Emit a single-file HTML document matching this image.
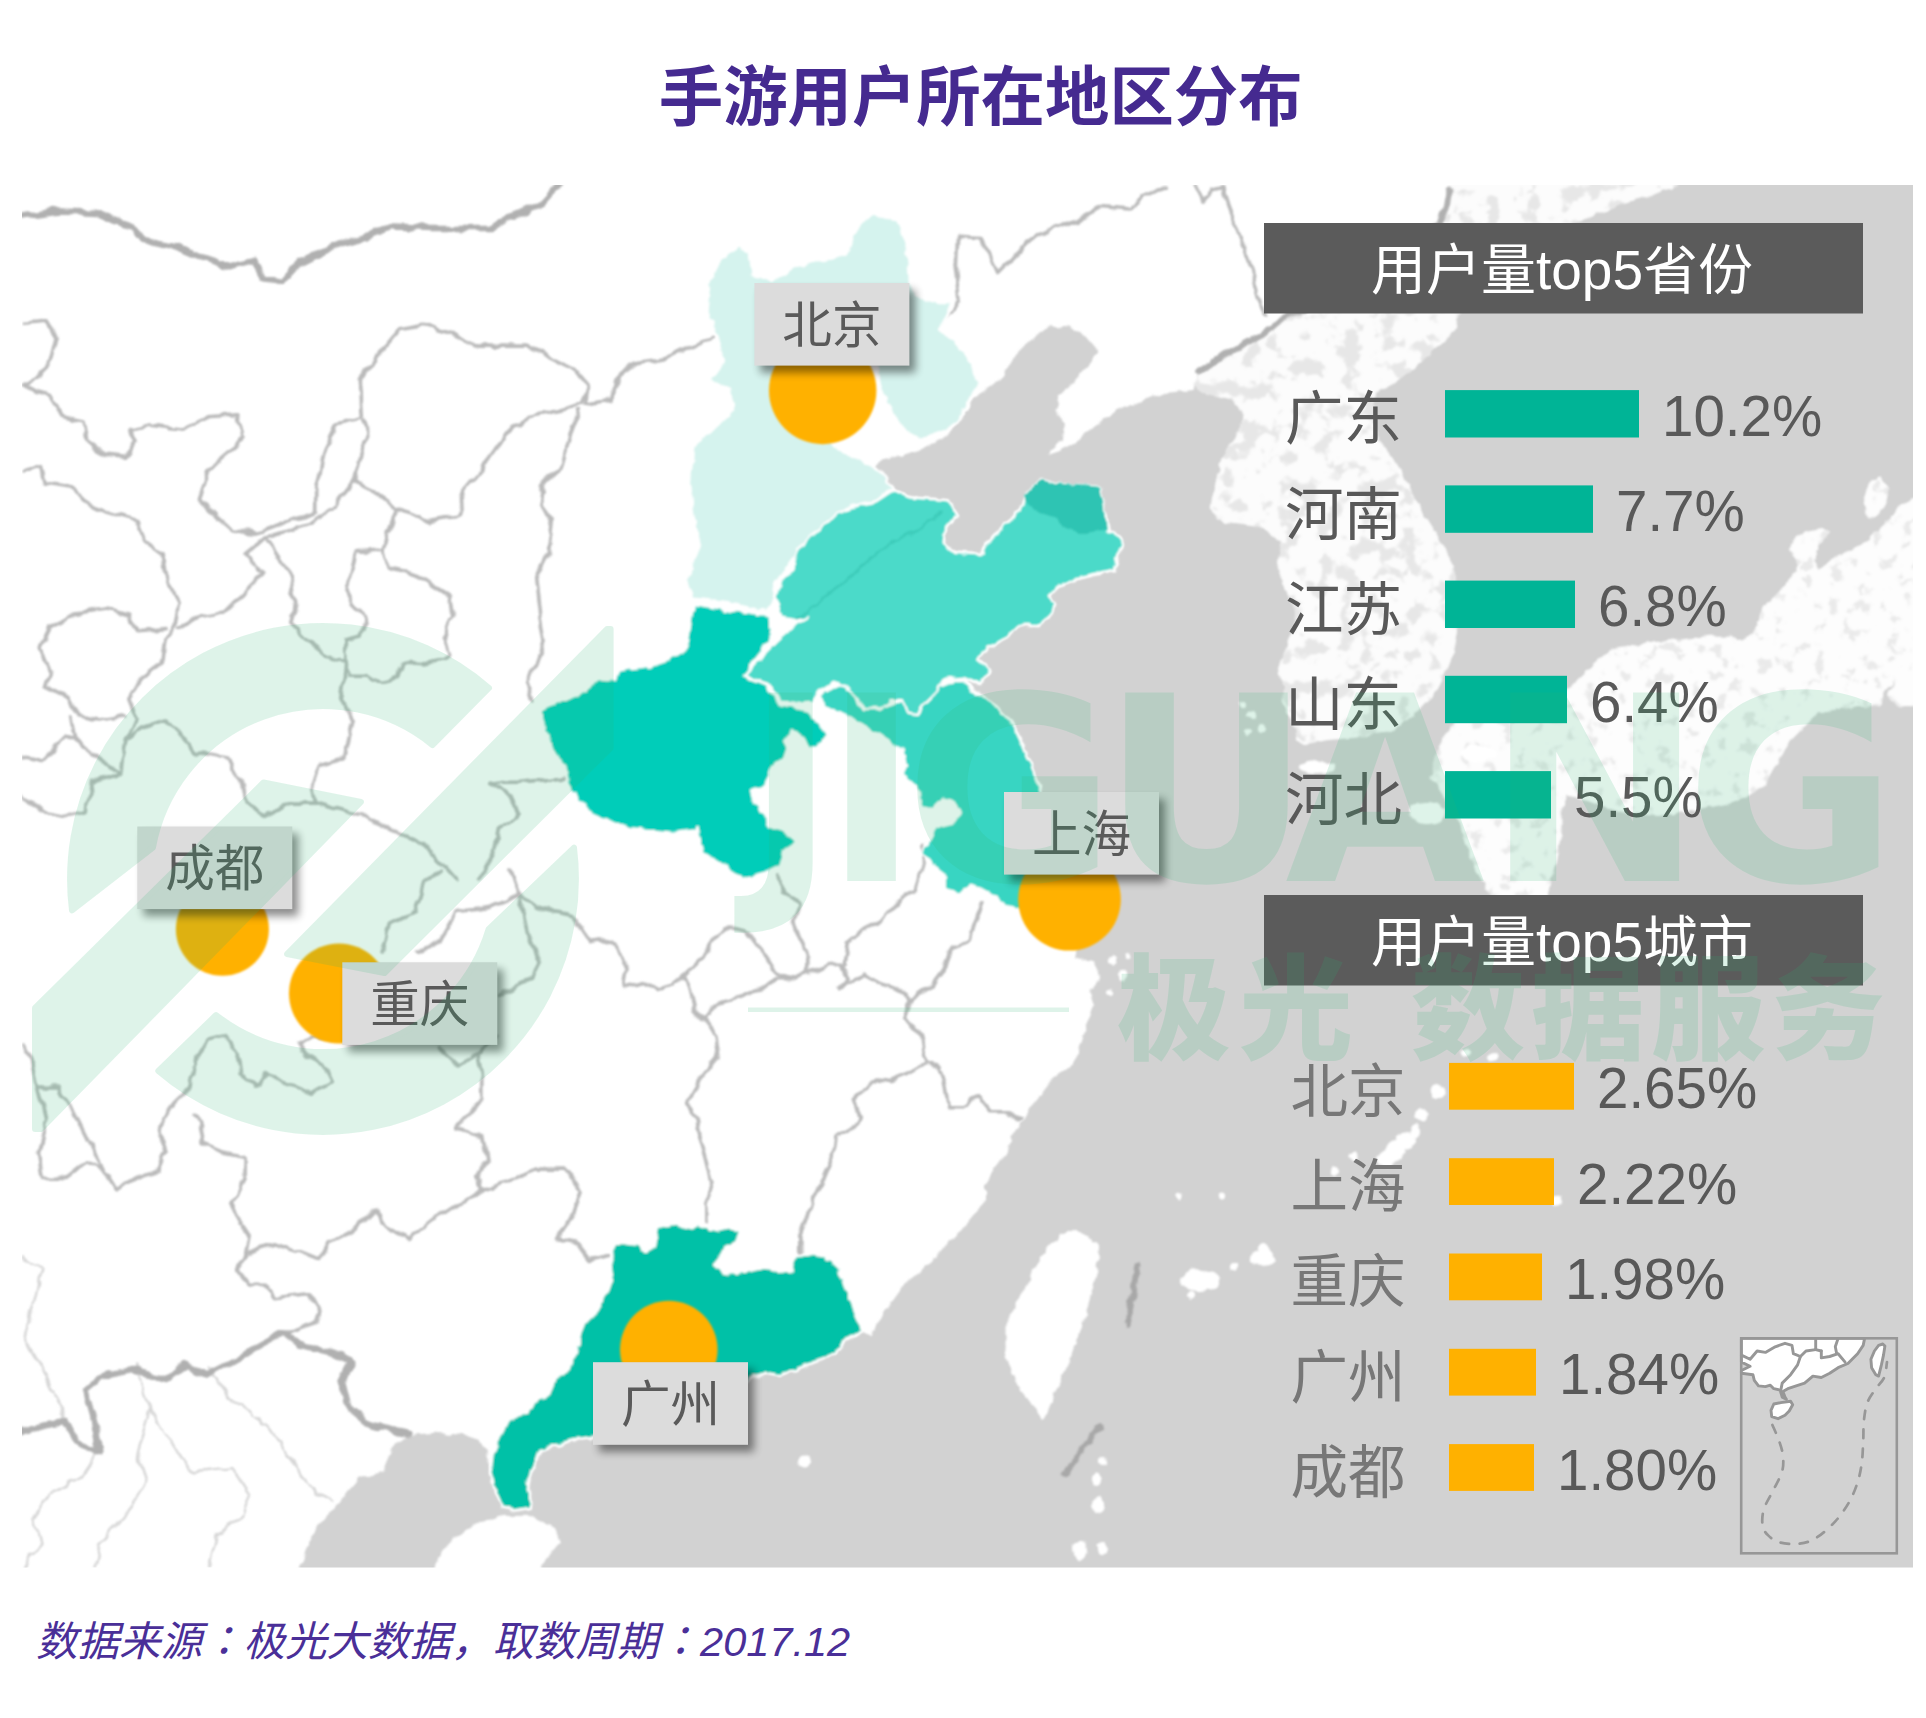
<!DOCTYPE html>
<html lang="zh-CN"><head><meta charset="utf-8"><title>手游用户所在地区分布</title>
<style>
html,body{margin:0;padding:0;background:#fff;}
body{width:1926px;height:1718px;overflow:hidden;position:relative;font-family:"Liberation Sans","Noto Sans CJK SC",sans-serif;}
svg{position:absolute;left:0;top:0;}
text{font-family:"Liberation Sans","Noto Sans CJK SC",sans-serif;}
.lab{font-size:49.6px;fill:#5a5a5a;text-anchor:middle;}
.leg{font-size:58.5px;fill:#595959;}
.val{font-size:56.5px;fill:#595959;}
.hd{font-size:55px;fill:#fff;text-anchor:middle;}
</style></head><body>
<svg width="1926" height="1718" viewBox="0 0 1926 1718">
<defs>
<clipPath id="mapclip"><rect x="22" y="185" width="1891" height="1382.4"/></clipPath>
<filter id="b1" x="-5%" y="-5%" width="110%" height="110%"><feGaussianBlur stdDeviation="1.3"/></filter>
<filter id="b2" x="-5%" y="-5%" width="110%" height="110%"><feGaussianBlur stdDeviation="0.9"/></filter>
<filter id="rough" x="-2%" y="-2%" width="104%" height="104%"><feTurbulence type="fractalNoise" baseFrequency="0.06" numOctaves="2" seed="3" result="n"/><feDisplacementMap in="SourceGraphic" in2="n" scale="9" xChannelSelector="R" yChannelSelector="G"/><feGaussianBlur stdDeviation="1.1"/></filter>
<filter id="rough2" x="-2%" y="-2%" width="104%" height="104%"><feTurbulence type="fractalNoise" baseFrequency="0.09" numOctaves="2" seed="7" result="n"/><feDisplacementMap in="SourceGraphic" in2="n" scale="7" xChannelSelector="R" yChannelSelector="G"/><feGaussianBlur stdDeviation="1.0"/></filter>
<filter id="mottle" x="0" y="0" width="100%" height="100%"><feTurbulence type="fractalNoise" baseFrequency="0.05" numOctaves="3" seed="11" result="t"/><feColorMatrix in="t" type="matrix" values="0 0 0 0 0.80  0 0 0 0 0.80  0 0 0 0 0.80  -10 0 0 0 4.75" result="spots"/><feComposite in="spots" in2="SourceGraphic" operator="in" result="sp"/><feMerge><feMergeNode in="SourceGraphic"/><feMergeNode in="sp"/></feMerge></filter>
<filter id="mottle2" x="0" y="0" width="100%" height="100%"><feTurbulence type="fractalNoise" baseFrequency="0.07" numOctaves="3" seed="5" result="t"/><feColorMatrix in="t" type="matrix" values="0 0 0 0 0.82  0 0 0 0 0.82  0 0 0 0 0.82  -10 0 0 0 4.0" result="spots"/><feComposite in="spots" in2="SourceGraphic" operator="in" result="sp"/><feMerge><feMergeNode in="SourceGraphic"/><feMergeNode in="sp"/></feMerge></filter>
<filter id="b3" x="-20%" y="-20%" width="140%" height="140%"><feGaussianBlur stdDeviation="4"/></filter>
<filter id="sh" x="-20%" y="-20%" width="150%" height="160%"><feGaussianBlur stdDeviation="4.2"/></filter>
</defs>

<g clip-path="url(#mapclip)">
<g filter="url(#rough2)">
<path d="M1450.0,160.0 L1450.0,185.0 L1446.0,205.0 L1440.0,223.0 L1400.0,255.0 L1350.0,285.0 L1280.0,320.0 L1262.0,335.0 L1230.0,352.0 L1197.5,372.5 L1192.5,390.0 L1167.5,392.7 L1142.5,400.2 L1117.5,410.2 L1095.0,425.2 L1075.0,442.8 L1055.0,452.8 L1045.0,455.3 L1040.0,464.0 L1050.0,450.0 L1062.7,440.0 L1065.0,425.0 L1055.0,410.0 L1060.0,395.0 L1075.0,380.0 L1090.0,365.0 L1097.7,350.0 L1085.0,335.0 L1070.0,327.6 L1050.0,325.0 L1030.0,340.0 L1015.0,355.0 L1000.0,380.6 L976.4,395.6 L957.8,423.6 L942.8,438.6 L924.0,448.0 L901.7,455.4 L883.0,459.0 L873.6,466.6 L883.0,477.9 L893.0,489.0 L910.4,497.6 L930.4,498.8 L947.6,500.3 L957.6,515.3 L945.0,530.4 L943.8,542.9 L955.0,552.9 L980.0,554.0 L987.6,542.9 L1000.0,530.4 L1015.0,515.3 L1022.6,505.3 L1027.6,492.8 L1040.0,479.0 L1055.0,484.0 L1075.0,486.6 L1100.0,487.8 L1104.0,505.3 L1107.7,530.4 L1119.0,535.4 L1124.0,545.4 L1116.5,557.9 L1115.0,570.4 L1100.0,574.0 L1080.0,578.0 L1060.0,585.4 L1047.7,597.0 L1055.0,605.0 L1040.0,625.0 L1020.0,625.0 L1005.0,637.6 L987.6,647.6 L977.6,660.0 L990.0,670.0 L980.0,685.0 L965.0,680.0 L980.0,695.0 L997.6,707.6 L1012.6,722.7 L1022.6,745.2 L1032.7,767.7 L1040.2,790.2 L1050.0,820.0 L1060.0,850.0 L1075.0,870.0 L1095.0,885.0 L1110.0,900.0 L1100.0,925.0 L1080.0,940.0 L1075.0,957.5 L1095.0,962.5 L1100.0,977.6 L1090.0,990.0 L1095.0,1005.0 L1087.8,1020.0 L1082.8,1035.0 L1077.8,1055.0 L1070.0,1067.6 L1052.8,1077.7 L1040.0,1095.0 L1027.7,1110.0 L1022.7,1120.0 L1012.7,1132.7 L1007.7,1152.7 L1000.0,1160.0 L992.7,1172.8 L985.0,1185.0 L985.0,1200.0 L975.0,1215.0 L962.7,1230.0 L947.6,1242.8 L935.0,1257.8 L922.6,1270.0 L905.0,1282.9 L892.6,1300.0 L883.0,1315.0 L870.5,1335.0 L860.4,1332.7 L845.4,1340.0 L835.4,1352.7 L820.4,1360.0 L800.4,1367.7 L780.4,1375.0 L765.3,1372.7 L750.3,1377.7 L735.0,1395.0 L720.0,1410.0 L700.0,1425.0 L660.0,1436.0 L592.7,1437.8 L575.0,1440.0 L555.0,1445.0 L540.0,1450.0 L535.0,1465.0 L527.6,1480.0 L530.0,1495.0 L530.0,1507.8 L515.0,1510.0 L502.6,1507.8 L495.0,1490.0 L490.0,1472.8 L487.6,1455.0 L480.0,1440.0 L465.0,1435.0 L435.0,1432.8 L409.0,1435.0 L392.0,1449.0 L382.0,1472.0 L359.0,1478.5 L339.0,1502.0 L319.0,1525.0 L306.0,1548.0 L299.0,1567.0 L295.0,1595.0 L1940.0,1595.0 L1940.0,160.0Z" fill="#d2d2d2"/>
<g filter="url(#mottle)"><path d="M1450.0,160.0 L1450.0,185.0 L1446.0,205.0 L1440.0,223.0 L1400.0,255.0 L1350.0,285.0 L1280.0,320.0 L1262.0,335.0 L1230.0,352.0 L1198.0,375.0 L1192.6,385.8 L1203.5,393.0 L1219.7,396.6 L1234.0,400.0 L1243.0,411.0 L1241.4,425.5 L1234.0,436.3 L1227.0,450.8 L1219.7,465.2 L1216.0,479.6 L1212.5,494.0 L1210.7,508.5 L1216.0,519.3 L1227.0,523.0 L1241.4,524.7 L1255.8,526.6 L1270.0,532.0 L1281.0,541.0 L1279.3,553.6 L1277.5,566.0 L1281.0,578.0 L1288.3,596.0 L1295.5,614.0 L1292.0,632.0 L1286.5,646.6 L1281.0,661.0 L1277.5,675.5 L1284.7,686.3 L1281.0,700.8 L1288.3,715.0 L1295.5,729.6 L1297.3,740.5 L1306.0,744.0 L1324.4,740.5 L1342.4,738.7 L1360.5,737.0 L1375.0,733.0 L1389.0,731.4 L1404.0,722.4 L1411.0,717.0 L1422.0,708.0 L1432.7,697.0 L1440.0,682.7 L1447.0,668.0 L1454.0,650.0 L1458.0,632.0 L1456.0,605.0 L1456.0,578.0 L1452.0,562.7 L1445.3,550.0 L1438.0,537.4 L1429.0,523.0 L1420.0,508.5 L1412.8,494.0 L1407.4,481.4 L1400.0,469.0 L1393.0,458.0 L1384.0,447.0 L1378.5,436.3 L1375.0,425.5 L1373.0,411.0 L1375.0,394.8 L1382.0,389.4 L1396.6,382.2 L1405.6,375.0 L1418.2,364.0 L1432.7,351.5 L1447.0,338.9 L1456.0,328.0 L1458.0,313.6 L1500.0,280.0 L1535.0,250.0 L1570.0,225.0 L1620.0,205.0 L1660.0,192.0 L1679.0,185.0 L1685.0,160.0Z" fill="#fcfcfc"/></g>
<g filter="url(#mottle2)"><path d="M1940.0,485.0 L1913.0,499.0 L1897.5,507.0 L1885.6,523.0 L1869.8,538.7 L1850.0,550.6 L1830.0,558.5 L1820.3,570.4 L1814.4,558.5 L1818.3,546.7 L1830.0,532.8 L1822.3,527.9 L1806.4,530.8 L1794.6,538.7 L1788.6,550.6 L1796.6,558.5 L1796.6,570.4 L1786.7,582.3 L1776.8,594.2 L1766.9,604.0 L1759.0,616.0 L1755.0,629.8 L1743.0,639.7 L1731.2,635.7 L1709.5,635.7 L1679.8,639.7 L1654.8,641.0 L1632.7,645.5 L1610.6,650.0 L1597.3,661.0 L1586.3,672.0 L1573.0,685.3 L1555.3,698.6 L1533.2,714.0 L1513.3,722.0 L1490.0,718.0 L1465.0,712.0 L1451.0,725.0 L1436.7,753.4 L1431.0,776.0 L1445.0,798.8 L1459.4,821.4 L1465.0,844.0 L1473.6,866.8 L1487.7,889.5 L1493.4,900.0 L1547.0,900.0 L1550.0,883.8 L1555.8,861.0 L1561.4,838.4 L1561.4,815.8 L1567.0,795.0 L1590.0,802.0 L1620.0,812.0 L1660.0,815.0 L1700.0,810.0 L1740.0,800.0 L1765.0,785.0 L1778.7,760.0 L1786.7,744.6 L1798.5,732.7 L1818.3,713.0 L1838.0,709.0 L1857.9,707.0 L1877.7,707.0 L1883.6,693.0 L1893.5,681.0 L1887.6,697.0 L1897.5,707.0 L1913.0,705.0 L1940.0,703.0Z" fill="#fdfdfd"/><path d="M1862.7,497.3 L1871.6,479.6 L1880.4,477.4 L1889.3,488.5 L1884.9,506.2 L1876.0,517.2 L1867.2,517.2Z" fill="#fdfdfd"/></g>
<path d="M1075.4,1228.0 L1100.0,1246.0 L1097.0,1273.0 L1085.0,1316.0 L1069.0,1362.5 L1052.0,1399.0 L1044.0,1419.0 L1032.0,1406.0 L1015.5,1382.5 L1005.6,1352.6 L1005.6,1326.0 L1019.0,1299.0 L1039.0,1259.5 L1059.0,1236.0Z" fill="#fff"/>
<ellipse cx="1317" cy="767" rx="18" ry="6" fill="#fff"/>
<ellipse cx="1479" cy="753" rx="18" ry="8" fill="#fff"/>
<ellipse cx="1427" cy="813" rx="18" ry="11" fill="#fff"/>
<ellipse cx="1252" cy="716" rx="5" ry="4" fill="#fff"/>
<ellipse cx="1243" cy="705" rx="4" ry="3" fill="#fff"/>
<ellipse cx="1262" cy="728" rx="4" ry="4" fill="#fff"/>
<ellipse cx="1248" cy="733" rx="3" ry="3" fill="#fff"/>
<ellipse cx="1180" cy="1196" rx="3.5" ry="3.5" fill="#fff"/>
<ellipse cx="1222.5" cy="1196" rx="3.5" ry="3.5" fill="#fff"/>
<ellipse cx="1200" cy="1280" rx="20" ry="11" fill="#fff"/>
<ellipse cx="1262" cy="1258" rx="12" ry="8" fill="#fff"/>
<ellipse cx="1234" cy="1267" rx="4" ry="4" fill="#fff"/>
<ellipse cx="1192" cy="1296" rx="4" ry="4" fill="#fff"/>
<ellipse cx="1112" cy="960" rx="5" ry="4" fill="#fff"/>
<ellipse cx="1122" cy="975" rx="4" ry="5" fill="#fff"/>
<ellipse cx="1128" cy="955" rx="3" ry="3" fill="#fff"/>
<ellipse cx="1110" cy="992" rx="3" ry="3" fill="#fff"/>
<ellipse cx="1103" cy="1460" rx="4" ry="4" fill="#fff"/>
<ellipse cx="1097" cy="1480" rx="5" ry="6" fill="#fff"/>
<ellipse cx="1098" cy="1505" rx="6" ry="8" fill="#fff"/>
<ellipse cx="1080" cy="1550" rx="8" ry="9" fill="#fff"/>
<ellipse cx="1102" cy="1548" rx="5" ry="6" fill="#fff"/>
<ellipse cx="804" cy="1461.5" rx="6" ry="6" fill="#fff"/>
<ellipse cx="1493" cy="1058" rx="6" ry="4" fill="#fff"/>
<ellipse cx="1466" cy="1052" rx="5" ry="4" fill="#fff"/>
<ellipse cx="1437.6" cy="1092" rx="8" ry="7" fill="#fff"/>
<ellipse cx="1421" cy="1115" rx="7" ry="6" fill="#fff"/>
<ellipse cx="1415" cy="1131" rx="5" ry="6" fill="#fff"/>
<ellipse cx="1406" cy="1141" rx="9" ry="9" fill="#fff"/>
<ellipse cx="1396" cy="1150" rx="10" ry="10" fill="#fff"/>
<ellipse cx="1386" cy="1160" rx="9" ry="8" fill="#fff"/>
<ellipse cx="1353.5" cy="1156" rx="5" ry="5" fill="#fff"/>
<ellipse cx="1335" cy="1171" rx="5" ry="5" fill="#fff"/>
<ellipse cx="1556" cy="1200.7" rx="5" ry="5" fill="#fff"/>
<ellipse cx="1264" cy="1252" rx="7" ry="8" fill="#fff"/>
<path d="M1137.5,1265.0 L1127.5,1325.0" fill="none" stroke="#a8a8a8" stroke-width="6" stroke-linecap="round"/>
<path d="M1098.6,1427.0 L1065.4,1474.0" fill="none" stroke="#a8a8a8" stroke-width="6" stroke-linecap="round"/>
<path d="M432.0,1595.0 L435.0,1567.0 L440.0,1553.0 L457.5,1535.4 L482.6,1521.0 L502.6,1516.0 L530.0,1516.0 L555.0,1527.9 L560.0,1543.0 L550.0,1555.4 L540.0,1567.0 L538.0,1595.0Z" fill="#fff"/>
</g>
<g filter="url(#rough)" stroke-linejoin="round" stroke-linecap="round">
<path d="M22.8,323.3 L45.7,321.2 L56.1,337.8 L49.8,362.8 L33.2,379.4 L22.8,385.6 L49.8,396.0 L62.3,416.8 L83.1,420.9 L87.2,441.7 L103.8,454.1 L124.6,456.2 L137.1,441.7 L128.8,429.2 L149.5,425.1 L182.8,429.2 L207.7,416.8 L236.8,414.7 L243.0,437.5 L232.6,450.0 L207.7,470.8 L199.4,499.8 L216.0,516.4 L232.6,531.0 L257.5,533.1 L290.8,520.6 L315.7,512.3 L315.7,487.4 L324.0,450.0 L336.4,425.1 L361.4,418.8" fill="none" stroke="#bababa" stroke-width="3.6"/>
<path d="M361.4,418.8 L359.3,379.4 L378.0,354.5 L398.8,329.5 L423.7,325.4 L448.6,331.6 L477.7,346.1 L527.5,346.1 L552.4,358.6 L577.4,371.1 L587.7,383.5 L581.5,404.3 L560.7,410.5 L527.5,416.8 L510.9,429.2 L486.0,462.5 L465.2,487.4 L456.9,516.4 L427.8,520.6 L398.8,508.1 L373.8,491.5 L353.1,481.1 L361.4,450.0 L369.7,433.4 L361.4,418.8" fill="none" stroke="#bababa" stroke-width="3.6"/>
<path d="M587.7,383.5 L585.7,404.3 L610.6,400.1 L618.9,375.2 L635.5,362.8 L664.6,358.6 L689.5,346.1 L714.4,337.8" fill="none" stroke="#bababa" stroke-width="3.6"/>
<path d="M579.4,410.5 L569.1,437.5 L560.7,466.6 L544.1,483.2 L540.0,504.0 L552.4,520.6 L548.3,553.8 L535.8,578.8 L540.0,616.1 L544.1,641.1 L535.8,666.0 L527.5,682.6 L531.7,701.3" fill="none" stroke="#bababa" stroke-width="3.6"/>
<path d="M353.1,481.1 L332.3,508.1 L307.4,524.8 L265.8,537.2" fill="none" stroke="#bababa" stroke-width="3.6"/>
<path d="M398.8,508.1 L386.3,533.1 L382.1,549.7 L357.2,551.8 L353.1,570.4 L344.8,587.1 L353.1,603.7 L365.5,616.1 L361.4,636.9 L344.8,641.1 L344.8,663.9" fill="none" stroke="#bababa" stroke-width="3.6"/>
<path d="M382.1,549.7 L390.4,566.3 L415.4,574.6 L432.0,585.0 L448.6,595.4 L452.8,616.1 L444.4,636.9 L448.6,657.7 L423.7,663.9 L402.9,661.8 L398.8,678.4 L382.1,682.6 L365.5,674.3 L348.9,674.3 L344.8,663.9" fill="none" stroke="#bababa" stroke-width="3.6"/>
<path d="M265.8,537.2 L245.1,553.8 L261.7,574.6 L245.1,591.2 L224.3,612.0 L199.4,616.1 L178.6,628.6" fill="none" stroke="#bababa" stroke-width="3.6"/>
<path d="M265.8,537.2 L282.5,562.1 L290.8,578.8 L294.9,603.7 L290.8,624.4 L307.4,641.1 L324.0,653.5 L344.8,663.9" fill="none" stroke="#bababa" stroke-width="3.6"/>
<path d="M22.8,470.8 L41.5,466.6 L45.7,483.2 L74.8,487.4 L83.1,499.8 L108.0,512.3 L137.1,520.6 L145.4,541.4 L162.0,553.8 L166.1,578.8 L178.6,603.7 L174.5,628.6 L166.1,641.1 L162.0,661.8 L141.2,678.4 L128.8,699.2 L137.1,720.0 L124.6,740.7" fill="none" stroke="#bababa" stroke-width="3.6"/>
<path d="M166.1,628.6 L137.1,630.7 L128.8,616.1 L108.0,609.9 L74.8,614.1 L49.8,628.6 L39.5,649.4 L49.8,670.1 L45.7,686.7 L70.6,699.2 L78.9,715.8 L99.7,720.0 L124.6,715.8" fill="none" stroke="#bababa" stroke-width="3.6"/>
<path d="M70.6,715.8 L74.8,740.7 L99.7,757.4 L120.5,774.0 L124.6,740.7 L141.2,728.3 L166.1,720.0 L182.8,736.6 L195.2,753.2 L224.3,757.4 L240.9,778.1 L245.1,803.1 L265.8,815.5 L290.8,803.1 L315.7,803.1 L344.8,811.4 L365.5,815.5 L394.6,832.1 L423.7,844.6 L440.3,861.2 L456.9,879.9" fill="none" stroke="#bababa" stroke-width="3.6"/>
<path d="M344.8,663.9 L340.6,699.2 L353.1,720.0 L344.8,757.4 L319.8,765.7 L311.5,782.3 L315.7,803.1" fill="none" stroke="#bababa" stroke-width="3.6"/>
<path d="M22.8,757.4 L41.5,761.5 L66.5,736.6 L74.8,740.7" fill="none" stroke="#bababa" stroke-width="3.6"/>
<path d="M22.8,794.7 L41.5,811.4 L66.5,815.5 L87.2,811.4 L91.4,782.3 L108.0,778.1 L120.5,774.0" fill="none" stroke="#bababa" stroke-width="3.6"/>
<path d="M490.1,782.3 L519.2,782.3 L540.0,780.2 L564.9,778.1" fill="none" stroke="#bababa" stroke-width="3.6"/>
<path d="M490.1,782.3 L510.9,794.7 L519.2,815.5 L498.4,828.0 L494.3,852.9 L477.7,879.9" fill="none" stroke="#bababa" stroke-width="3.6"/>
<path d="M22.8,1044.5 L33.2,1065.2 L37.4,1086.0 L58.2,1086.0 L74.8,1115.1 L87.2,1140.0 L103.8,1169.1 L116.3,1189.8 L137.1,1177.4 L157.8,1169.1 L166.1,1152.5 L157.8,1127.5 L174.5,1102.6 L191.1,1086.0 L195.2,1061.1 L207.7,1040.3 L224.3,1036.1 L236.8,1052.8 L240.9,1073.5 L257.5,1086.0 L265.8,1073.5 L290.8,1086.0 L311.5,1094.3 L332.3,1081.8 L324.0,1065.2 L307.4,1056.9 L299.1,1044.5 L315.7,1036.1 L340.6,1040.3" fill="none" stroke="#bababa" stroke-width="3.6"/>
<path d="M37.4,1086.0 L45.7,1119.2 L37.4,1152.5 L41.5,1177.4 L66.5,1177.4 L87.2,1160.8 L103.8,1169.1" fill="none" stroke="#bababa" stroke-width="3.6"/>
<path d="M195.2,1115.1 L199.4,1119.2 L203.5,1144.1 L224.3,1152.5 L245.1,1156.6 L245.1,1177.4 L232.6,1202.3 L240.9,1223.1 L249.2,1235.5 L245.1,1256.3 L236.8,1268.8 L249.2,1285.4 L265.8,1285.4 L274.1,1297.8 L307.4,1293.7 L319.8,1306.1 L315.7,1322.8 L290.8,1331.1 L282.5,1331.1" fill="none" stroke="#bababa" stroke-width="3.6"/>
<path d="M249.2,1252.1 L274.1,1243.8 L299.1,1252.1 L319.8,1260.4 L328.1,1243.8 L353.1,1231.4 L373.8,1210.6 L390.4,1227.2 L407.1,1239.7 L432.0,1218.9 L456.9,1206.4 L481.8,1189.8" fill="none" stroke="#bababa" stroke-width="3.6"/>
<path d="M477.7,1052.8 L481.8,1077.7 L481.8,1098.5 L456.9,1127.5 L481.8,1135.8 L486.0,1160.8 L477.7,1177.4 L481.8,1189.8 L515.1,1177.4 L535.8,1169.1 L564.9,1169.1 L581.5,1189.8 L573.2,1214.8 L556.6,1239.7 L577.4,1243.8 L589.8,1260.4 L610.6,1256.3" fill="none" stroke="#bababa" stroke-width="3.6"/>
<path d="M519.2,894.9 L535.8,907.4 L573.2,915.7 L589.8,940.6 L600.2,939.0" fill="none" stroke="#bababa" stroke-width="3.6"/>
<path d="M382.1,953.1 L390.4,924.0 L415.4,911.5 L423.7,882.5 L440.3,870.0" fill="none" stroke="#bababa" stroke-width="3.6"/>
<path d="M415.4,953.1 L440.3,940.6 L456.9,911.5 L490.1,907.4 L519.2,894.9 L510.9,870.0" fill="none" stroke="#bababa" stroke-width="3.6"/>
<path d="M519.2,894.9 L527.5,932.3 L540.0,961.4 L531.7,978.0 L498.4,994.6" fill="none" stroke="#bababa" stroke-width="3.6"/>
<path d="M496.8,1036.1 L477.7,1052.8 L456.9,1065.2 L440.3,1048.6" fill="none" stroke="#bababa" stroke-width="3.6"/>
<path d="M778.6,875.7 L781.6,890.8 L799.8,902.9 L793.7,921.1 L799.8,939.2 L808.8,957.4 L808.8,972.5" fill="none" stroke="#bababa" stroke-width="3.6"/>
<path d="M600.0,939.2 L618.2,948.3 L627.2,969.5 L624.2,987.7 L642.4,981.6 L657.5,990.7 L672.6,984.6 L684.7,975.5 L690.8,993.7 L693.8,1011.9 L702.9,1017.9" fill="none" stroke="#bababa" stroke-width="3.6"/>
<path d="M684.7,975.5 L702.9,957.4 L715.0,939.2 L730.1,927.1 L745.3,930.1 L757.4,945.3 L769.5,963.4 L781.6,975.5 L796.7,978.6 L808.8,974.0" fill="none" stroke="#bababa" stroke-width="3.6"/>
<path d="M702.9,1017.9 L721.1,1002.8 L742.3,996.7 L757.4,990.7 L778.6,978.6 L796.7,978.6" fill="none" stroke="#bababa" stroke-width="3.6"/>
<path d="M702.9,1017.9 L715.0,1036.1 L718.0,1057.3 L705.9,1072.4 L693.8,1087.5 L687.8,1102.7 L696.9,1117.8 L699.9,1136.0 L705.9,1157.1 L712.0,1181.4 L705.9,1202.5 L705.9,1220.7" fill="none" stroke="#bababa" stroke-width="3.6"/>
<path d="M808.8,974.0 L830.0,963.4 L842.1,963.4 L848.2,978.6 L839.1,987.7 L851.2,981.6 L863.3,972.5 L875.4,981.6 L890.6,987.7 L905.7,993.7 L911.7,999.8" fill="none" stroke="#bababa" stroke-width="3.6"/>
<path d="M981.4,902.9 L975.3,921.1 L969.2,939.2 L951.1,948.3 L945.0,969.5 L932.9,984.6 L911.7,999.8" fill="none" stroke="#bababa" stroke-width="3.6"/>
<path d="M845.2,963.4 L848.2,942.3 L863.3,930.1 L881.5,921.1 L896.6,902.9 L914.8,890.8 L920.8,872.6 L926.9,854.5 L923.8,845.4" fill="none" stroke="#bababa" stroke-width="3.6"/>
<path d="M911.7,999.8 L905.7,1017.9 L920.8,1036.1 L923.8,1057.3 L926.9,1063.3 L905.7,1075.4 L890.6,1081.5 L878.5,1080.0 L863.3,1090.6 L854.2,1099.6 L860.3,1117.8 L848.2,1129.9 L836.1,1136.0 L833.1,1157.1 L824.0,1178.3 L811.9,1199.5 L805.8,1220.7 L799.8,1235.8 L799.8,1254.0" fill="none" stroke="#bababa" stroke-width="3.6"/>
<path d="M926.9,1063.3 L939.0,1066.3 L945.0,1087.5 L948.1,1105.7 L963.2,1105.7 L978.3,1096.6 L990.4,1111.7 L1008.6,1111.7 L1020.7,1120.8" fill="none" stroke="#bababa" stroke-width="3.6"/>
<path d="M1165.3,186.3 L1140.3,195.0 L1130.3,210.0 L1100.2,207.5 L1077.7,220.0 L1055.2,227.5 L1030.2,240.1 L997.6,272.6 L980.1,237.6 L957.6,236.3 L956.3,267.6 L960.1,300.1 L942.6,320.1" fill="none" stroke="#bababa" stroke-width="3.6"/>
<path d="M1195.3,185.0 L1202.8,200.0 L1212.8,190.0 L1222.8,187.5 L1227.8,205.0 L1240.4,237.6 L1250.4,262.6 L1255.4,285.1 L1265.4,315.1" fill="none" stroke="#bababa" stroke-width="3.6"/>
<path d="M137.1,1364.3 L149.5,1410.0 L174.5,1451.5 L195.2,1472.3 L232.6,1468.1 L249.2,1493.1 L240.9,1518.0 L216.0,1534.6 L207.7,1567.8" fill="none" stroke="#d6d6d6" stroke-width="2.4"/>
<path d="M207.7,1368.4 L232.6,1401.7 L265.8,1422.4 L290.8,1459.8 L315.7,1493.1 L332.3,1501.4" fill="none" stroke="#d6d6d6" stroke-width="2.4"/>
<path d="M22.8,1256.3 L41.5,1268.8 L33.2,1306.1 L24.9,1339.4 L41.5,1368.4 L58.2,1401.7 L66.5,1426.6" fill="none" stroke="#d6d6d6" stroke-width="2.4"/>
<path d="M99.7,1451.5 L83.1,1476.4 L49.8,1493.1 L33.2,1518.0 L41.5,1542.9 L24.9,1567.8" fill="none" stroke="#d6d6d6" stroke-width="2.4"/>
<path d="M149.5,1410.0 L137.1,1451.5 L145.4,1480.6 L124.6,1518.0 L99.7,1542.9 L95.5,1567.8" fill="none" stroke="#d6d6d6" stroke-width="2.4"/>
<path d="M21.6,216.5 L59.8,211.5 L96.4,213.0 L133.0,226.4 L143.0,239.7 L176.0,246.4 L199.4,256.3 L229.3,266.3 L256.0,259.7 L262.5,278.0 L282.5,281.3 L299.0,263.0 L332.3,246.4 L365.6,236.4 L392.0,226.4 L432.0,228.0 L492.0,228.0 L511.8,216.5 L538.4,206.5 L558.3,185.0" fill="none" stroke="#b0b0b0" stroke-width="6.5"/>
<path d="M21.6,1432.0 L43.2,1425.4 L66.5,1422.0 L76.4,1442.0 L99.7,1452.0 L93.0,1415.4 L86.4,1392.0 L99.7,1375.5 L133.0,1369.0 L166.0,1379.0 L186.0,1365.6 L206.0,1375.5 L232.6,1362.0 L252.6,1349.0 L282.5,1332.3 L299.0,1345.6 L332.3,1352.3 L352.3,1362.0 L342.3,1382.0 L349.0,1408.8 L365.6,1422.0 L398.8,1432.0 L408.8,1433.7" fill="none" stroke="#b0b0b0" stroke-width="6.5"/>
<path d="M1450.0,190.0 L1446.0,205.0 L1440.0,223.0 L1400.0,255.0 L1350.0,285.0 L1280.0,320.0 L1262.0,335.0 L1230.0,352.0 L1197.5,372.5" fill="none" stroke="#b0b0b0" stroke-width="6.5"/>
</g>
<g filter="url(#rough2)" stroke="#fff" stroke-width="2.5" stroke-linejoin="round">
<path d="M736.4,244.8 L749.7,253.1 L753.0,276.3 L772.9,279.7 L796.2,266.4 L819.5,259.7 L846.0,254.7 L856.0,229.8 L866.0,217.9 L874.0,213.9 L889.9,216.9 L900.9,226.8 L906.9,246.1 L908.9,265.0 L909.9,279.7 L915.8,296.3 L939.1,302.9 L952.4,302.9 L945.7,319.6 L939.1,329.5 L955.7,342.8 L972.3,362.8 L979.0,382.7 L969.0,402.6 L959.0,422.6 L939.1,432.5 L922.5,439.2 L905.9,432.5 L895.9,419.3 L885.9,399.3 L879.3,382.7 L877.6,366.1 L872.6,356.1 L852.7,349.5 L826.1,349.5 L806.2,356.1 L796.2,369.4 L789.6,389.3 L796.2,412.6 L812.8,432.5 L836.1,445.8 L839.4,449.2 L866.0,462.5 L885.9,475.7 L892.6,489.0 L872.6,502.3 L846.0,509.0 L826.1,528.9 L806.2,538.9 L796.2,555.5 L776.3,582.1 L772.9,602.0 L766.3,612.0 L753.0,608.7 L726.4,602.0 L693.2,598.7 L686.5,578.8 L699.8,545.5 L693.2,515.6 L689.9,482.4 L693.2,445.8 L709.8,432.5 L733.1,409.3 L729.7,389.3 L709.8,379.4 L723.1,362.8 L716.4,336.2 L706.5,309.6 L709.8,279.7 L716.4,266.4Z" fill="#d5f3ee"/>
<path d="M692.7,603.9 L710.2,606.4 L727.7,610.2 L745.2,612.7 L760.2,615.2 L770.3,615.2 L772.8,630.2 L767.7,642.7 L760.2,652.7 L750.2,665.2 L744.0,675.2 L752.7,680.2 L765.2,685.2 L775.3,695.3 L780.3,705.3 L795.3,707.8 L807.8,710.3 L815.3,720.3 L825.3,732.8 L825.3,740.3 L815.3,747.8 L807.8,747.8 L802.8,737.8 L792.8,730.3 L785.3,740.3 L785.3,755.3 L775.3,762.8 L770.3,775.3 L765.2,785.3 L750.2,790.4 L752.7,800.4 L762.7,812.9 L770.3,825.4 L785.3,832.9 L795.3,840.4 L793.0,846.0 L783.0,852.7 L779.6,866.0 L766.0,872.6 L743.0,879.0 L723.0,866.0 L703.0,852.7 L696.5,826.0 L695.2,830.4 L675.2,832.9 L650.1,830.4 L627.6,827.9 L607.6,820.4 L590.1,812.9 L577.6,800.4 L567.5,782.8 L565.0,765.3 L552.5,750.3 L545.0,730.3 L540.0,710.3 L565.0,700.3 L585.1,690.3 L597.6,680.2 L615.1,677.7 L617.6,670.2 L635.1,667.7 L652.6,665.2 L667.6,660.2 L680.2,652.7 L687.7,642.7 L690.2,625.2Z" fill="#00cdb9"/>
<path d="M819.5,696.5 L826.1,689.9 L846.0,683.2 L866.0,696.5 L879.3,706.5 L892.6,703.1 L905.9,699.8 L915.8,709.8 L925.8,696.5 L939.1,686.5 L955.7,679.9 L962.0,679.9 L980.0,695.0 L997.6,707.6 L1012.6,722.7 L1022.6,745.2 L1032.7,767.7 L1040.2,790.2 L1050.0,820.0 L1060.0,850.0 L1075.0,870.0 L1095.0,885.0 L1110.0,900.0 L1090.0,915.0 L1060.0,915.0 L1030.0,912.0 L1018.9,909.2 L1005.6,905.9 L989.0,892.6 L972.3,885.9 L959.0,892.6 L945.7,889.3 L945.7,876.0 L932.5,866.0 L922.5,852.7 L929.1,839.4 L935.8,826.1 L952.4,822.8 L962.4,812.8 L955.7,802.8 L942.4,799.5 L932.5,809.5 L922.5,806.2 L915.8,786.2 L902.5,776.3 L905.9,766.3 L902.5,749.7 L885.9,739.7 L866.0,726.4 L846.0,716.4 L826.1,706.5Z" fill="#38d5c2"/>
<path d="M892.9,491.3 L875.4,502.6 L855.3,507.6 L837.8,512.6 L825.3,525.1 L807.8,537.6 L797.8,550.1 L792.8,567.6 L780.3,582.6 L775.3,595.2 L777.8,610.2 L780.3,617.7 L795.3,620.2 L807.8,616.4 L795.3,625.2 L780.3,637.7 L767.7,650.2 L755.2,662.7 L745.2,674.0 L752.7,679.0 L767.7,684.0 L775.3,692.8 L780.3,702.8 L797.8,704.0 L812.8,702.8 L820.3,690.3 L832.8,682.7 L845.3,686.5 L855.3,697.8 L862.8,709.0 L880.4,709.0 L890.4,700.3 L902.9,700.3 L907.9,712.8 L917.9,714.0 L925.4,702.8 L935.4,692.8 L942.9,680.2 L962.9,677.7 L980.0,685.0 L990.0,670.0 L977.6,660.0 L987.6,647.6 L1005.0,637.6 L1020.0,625.0 L1040.0,625.0 L1055.0,605.0 L1047.7,597.0 L1060.0,585.4 L1080.0,578.0 L1100.0,574.0 L1115.0,570.4 L1116.5,557.9 L1124.0,545.4 L1119.0,535.4 L1107.7,530.4 L1104.0,505.3 L1100.0,487.8 L1075.0,486.6 L1055.0,484.0 L1040.0,479.0 L1027.6,492.8 L1022.6,505.3 L1015.0,515.3 L1000.0,530.4 L987.6,542.9 L980.0,554.0 L955.0,552.9 L943.8,542.9 L945.0,530.4 L957.6,515.3 L947.6,500.3 L930.4,498.8 L910.4,497.6Z" fill="#4bdac9"/>
<path d="M1040.2,479.0 L1055.2,484.1 L1100.2,487.8 L1104.0,505.3 L1105.2,527.8 L1092.7,532.9 L1077.7,532.9 L1065.2,527.8 L1055.2,517.8 L1040.2,512.8 L1027.6,505.3 L1025.1,495.3Z" fill="#2fc4b3" stroke="none"/>
<path d="M942.9,511.3 L920.4,527.6 L895.4,540.1 L870.4,557.6 L852.8,575.1 L832.8,590.2 L815.3,605.2 L795.3,617.7" fill="none" stroke="#3ccbb9" stroke-width="2.5"/>
<path d="M617.7,1242.6 L640.2,1245.1 L647.7,1252.6 L655.2,1245.1 L657.7,1227.6 L670.3,1223.8 L685.3,1228.8 L697.8,1225.1 L710.3,1230.1 L730.3,1226.3 L740.3,1232.6 L735.3,1242.6 L725.3,1247.6 L715.3,1265.1 L725.3,1273.9 L745.3,1271.4 L765.3,1267.6 L790.4,1272.6 L795.4,1257.6 L805.4,1253.8 L825.4,1256.3 L840.4,1270.1 L845.4,1287.6 L850.4,1302.6 L855.4,1315.2 L861.7,1325.2 L860.4,1332.7 L845.4,1340.2 L835.4,1352.7 L820.4,1360.2 L800.4,1367.7 L780.4,1375.2 L765.3,1372.7 L750.3,1377.7 L735.3,1395.2 L720.3,1410.3 L700.3,1425.3 L660.2,1436.3 L592.7,1437.8 L575.2,1440.3 L555.1,1445.3 L540.1,1450.3 L535.1,1465.3 L527.6,1480.3 L530.1,1495.3 L530.1,1507.8 L515.1,1510.4 L502.6,1507.8 L495.1,1490.3 L490.1,1472.8 L492.6,1455.3 L500.1,1435.3 L507.6,1420.3 L527.6,1412.8 L532.6,1405.2 L547.6,1395.2 L552.6,1382.7 L567.6,1370.2 L575.2,1355.2 L580.2,1335.2 L585.2,1322.7 L597.7,1310.2 L605.2,1295.1 L612.7,1280.1 L610.2,1262.6Z" fill="#00c1a7"/>
</g>
<g filter="url(#b2)">
<circle cx="822.7" cy="390.5" r="53.7" fill="#ffb100"/>
<circle cx="1069.5" cy="899.3" r="51.3" fill="#ffb100"/>
<circle cx="222.4" cy="929.3" r="46.5" fill="#ffb100"/>
<circle cx="339" cy="993.5" r="50" fill="#ffb100"/>
<circle cx="668.8" cy="1349.6" r="48.8" fill="#ffb100"/>
</g>
</g>
<rect x="760.4" y="290" width="155" height="82.6" fill="#000" opacity="0.45" filter="url(#sh)"/>
<rect x="754.4" y="283" width="155" height="82.6" fill="#dcdcdc"/>
<text class="lab" x="831.9" y="342.6">北京</text>
<rect x="1010" y="799" width="155" height="82.6" fill="#000" opacity="0.45" filter="url(#sh)"/>
<rect x="1004" y="792" width="155" height="82.6" fill="#dcdcdc"/>
<text class="lab" x="1081.5" y="851.6">上海</text>
<rect x="143.3" y="833.5" width="155" height="82.6" fill="#000" opacity="0.45" filter="url(#sh)"/>
<rect x="137.3" y="826.5" width="155" height="82.6" fill="#dcdcdc"/>
<text class="lab" x="214.8" y="886.1">成都</text>
<rect x="348.3" y="969.3" width="155" height="82.6" fill="#000" opacity="0.45" filter="url(#sh)"/>
<rect x="342.3" y="962.3" width="155" height="82.6" fill="#dcdcdc"/>
<text class="lab" x="419.8" y="1021.9">重庆</text>
<rect x="599" y="1369.2" width="155" height="82.6" fill="#000" opacity="0.45" filter="url(#sh)"/>
<rect x="593" y="1362.2" width="155" height="82.6" fill="#dcdcdc"/>
<text class="lab" x="670.5" y="1421.8">广州</text>
<rect x="1264" y="223" width="599" height="90.5" fill="#5b5b5b"/>
<text class="hd" x="1562" y="289">用户量top5省份</text>
<rect x="1264" y="895" width="599" height="90.5" fill="#5b5b5b"/>
<text class="hd" x="1562" y="961">用户量top5城市</text>
<rect x="1445" y="390.1" width="194" height="47.4" fill="#00b496"/>
<text class="leg" x="1285" y="439.3">广东</text>
<text class="val" x="1662" y="435.8">10.2%</text>
<rect x="1445" y="485.4" width="148" height="47.4" fill="#00b496"/>
<text class="leg" x="1285" y="534.5">河南</text>
<text class="val" x="1616" y="531.0">7.7%</text>
<rect x="1445" y="580.6" width="130" height="47.4" fill="#00b496"/>
<text class="leg" x="1285" y="629.8">江苏</text>
<text class="val" x="1598" y="626.3">6.8%</text>
<rect x="1445" y="675.8" width="122" height="47.4" fill="#00b496"/>
<text class="leg" x="1285" y="725.0">山东</text>
<text class="val" x="1590" y="721.5">6.4%</text>
<rect x="1445" y="771.1" width="106" height="47.4" fill="#00b496"/>
<text class="leg" x="1285" y="820.3">河北</text>
<text class="val" x="1574" y="816.8">5.5%</text>
<rect x="1449" y="1062.9" width="125" height="46.8" fill="#ffb100"/>
<text class="leg" x="1290.5" y="1111.8" style="fill:#777;font-size:57.5px">北京</text>
<text class="val" x="1597" y="1108.3">2.65%</text>
<rect x="1449" y="1158.2" width="105" height="46.8" fill="#ffb100"/>
<text class="leg" x="1290.5" y="1207.1" style="fill:#777;font-size:57.5px">上海</text>
<text class="val" x="1577" y="1203.6">2.22%</text>
<rect x="1449" y="1253.5" width="93" height="46.8" fill="#ffb100"/>
<text class="leg" x="1290.5" y="1302.4" style="fill:#777;font-size:57.5px">重庆</text>
<text class="val" x="1565" y="1298.9">1.98%</text>
<rect x="1449" y="1348.8" width="87" height="46.8" fill="#ffb100"/>
<text class="leg" x="1290.5" y="1397.7" style="fill:#777;font-size:57.5px">广州</text>
<text class="val" x="1559" y="1394.2">1.84%</text>
<rect x="1449" y="1444.1" width="85" height="46.8" fill="#ffb100"/>
<text class="leg" x="1290.5" y="1493.0" style="fill:#777;font-size:57.5px">成都</text>
<text class="val" x="1557" y="1489.5">1.80%</text>
<g id="inset" stroke="#979797" stroke-width="2.9" stroke-linejoin="round" stroke-linecap="round" fill="none"><rect x="1741.2" y="1338.3" width="155.6" height="215" fill="#d2d2d2" stroke="none"/><polygon points="1741.4,1338.4 1864.6,1338.4 1863.2,1345.4 1857.6,1353.7 1847.9,1363.5 1838.1,1367.7 1829.7,1373.3 1821.3,1377.5 1812.9,1376.1 1804.6,1383.1 1796.2,1385.9 1787.8,1388.7 1782.9,1391.5 1785.0,1397.1 1786.4,1399.2 1782.2,1397.1 1780.1,1390.1 1773.8,1388.7 1770.3,1385.2 1765.4,1386.6 1758.5,1385.9 1754.3,1380.3 1752.9,1374.7 1741.4,1373.3 1741.4,1370.5 1750.1,1366.3 1741.4,1362.1" fill="#fff"/><polygon points="1773.8,1404.0 1780.8,1402.6 1790.6,1401.2 1792.7,1404.7 1789.2,1411.0 1785.0,1415.2 1778.0,1418.7 1771.7,1416.6 1771.0,1410.3" fill="#fff"/><polygon points="1882.8,1344.0 1884.9,1346.1 1883.5,1355.1 1881.4,1364.9 1878.6,1376.1 1875.8,1374.7 1871.6,1367.7 1870.9,1359.3 1874.4,1351.0 1878.6,1345.4" fill="#fff"/><polyline points="1800.4,1356.5 1797.6,1364.9 1790.6,1374.7 1782.2,1383.1 1780.8,1390.1"/><polyline points="1741.4,1355.1 1750.1,1359.3 1757.1,1351.0 1765.4,1352.4 1775.2,1346.8 1785.0,1343.3 1792.0,1345.4 1793.4,1353.7 1800.4,1356.5 1806.0,1351.0 1815.7,1349.6 1815.7,1338.4"/><polyline points="1821.3,1351.0 1821.3,1357.9 1829.7,1356.5 1838.1,1353.7 1845.1,1362.1"/><polyline points="1838.1,1338.4 1835.3,1346.8 1836.7,1353.7"/><polyline points="1815.7,1349.6 1821.3,1351.0"/><path d="M1772.4,1425.0 C1773.6,1427.8 1777.7,1436.7 1779.4,1441.8 C1781.2,1446.9 1782.4,1450.8 1782.9,1455.7 C1783.4,1460.6 1783.7,1465.5 1782.2,1471.1 C1780.7,1476.7 1776.8,1483.0 1773.8,1489.3 C1770.8,1495.6 1765.9,1502.8 1764.0,1508.8 C1762.1,1514.8 1761.9,1521.2 1762.6,1525.6 C1763.3,1530.0 1765.4,1532.6 1768.2,1535.4 C1771.0,1538.2 1774.3,1540.9 1779.4,1542.3 C1784.5,1543.7 1793.0,1544.4 1799.0,1543.7 C1805.0,1543.0 1809.7,1541.9 1815.7,1538.2 C1821.8,1534.5 1829.7,1527.5 1835.3,1521.4 C1840.9,1515.3 1845.6,1508.3 1849.3,1501.8 C1853.0,1495.3 1855.5,1488.8 1857.6,1482.3 C1859.7,1475.8 1860.9,1469.5 1861.8,1462.7 C1862.7,1456.0 1862.8,1448.8 1863.2,1441.8 C1863.6,1434.8 1863.2,1427.3 1863.9,1420.8 C1864.6,1414.3 1865.4,1407.9 1867.4,1402.6 C1869.4,1397.2 1873.0,1392.9 1875.8,1388.7 C1878.6,1384.5 1882.3,1381.9 1884.2,1377.5 C1886.1,1373.1 1886.5,1364.7 1887.0,1362.1" stroke-dasharray="8.5 10.5" stroke-width="2.7"/><rect x="1741.2" y="1338.3" width="155.6" height="215" stroke-width="2.6" stroke-linejoin="miter"/></g>
<g id="wm" fill="#2bb673" stroke="#2bb673" stroke-width="6" stroke-linejoin="round" opacity="0.15">
<path d="M72.0,910.4 A253,253 0 0 1 489.0,688.0 L432.5,745.1 A173,173 0 0 0 152.9,847.6 Z"/>
<path d="M35,1008 L263.5,782.5 L361,802 L41,1129 L35,1129 Z"/>
<path d="M607,629 L610.6,629 L610.6,748 L384.5,973 L287,954 Z"/>
<path d="M574.0,847.6 A253,253 0 0 1 158.3,1071.0 L216.1,1015.0 A173,173 0 0 0 488.6,929.2 Z"/>
<g stroke="none"><rect x="748" y="1007.5" width="321" height="4.5"/>
<text style="font-family:'DejaVu Sans','Liberation Sans',sans-serif" font-size="258.5" font-weight="700" y="881" x="747.4 823.5 904.3 1101.5 1285 1486.5 1685.3"><tspan style="font-family:'DejaVu Sans Condensed','DejaVu Sans',sans-serif">J</tspan>IGUANG</text>
<text font-size="114" font-weight="900" y="1050" x="1117 1239 1352 1411 1531 1651 1771" id="wmc">极光 数据服务</text></g></g>
<text x="980.7" y="120" text-anchor="middle" font-size="64.4" font-weight="700" fill="#452a90">手游用户所在地区分布</text>
<text x="36" y="1656.3" font-size="41.5" font-style="italic" fill="#4a2f98">数据来源<tspan lang="ja" style="font-family:'Noto Sans CJK JP','Noto Sans CJK SC',sans-serif">：</tspan>极光大数据，取数周期<tspan lang="ja" style="font-family:'Noto Sans CJK JP','Noto Sans CJK SC',sans-serif">：</tspan>2017.12</text>
</svg></body></html>
